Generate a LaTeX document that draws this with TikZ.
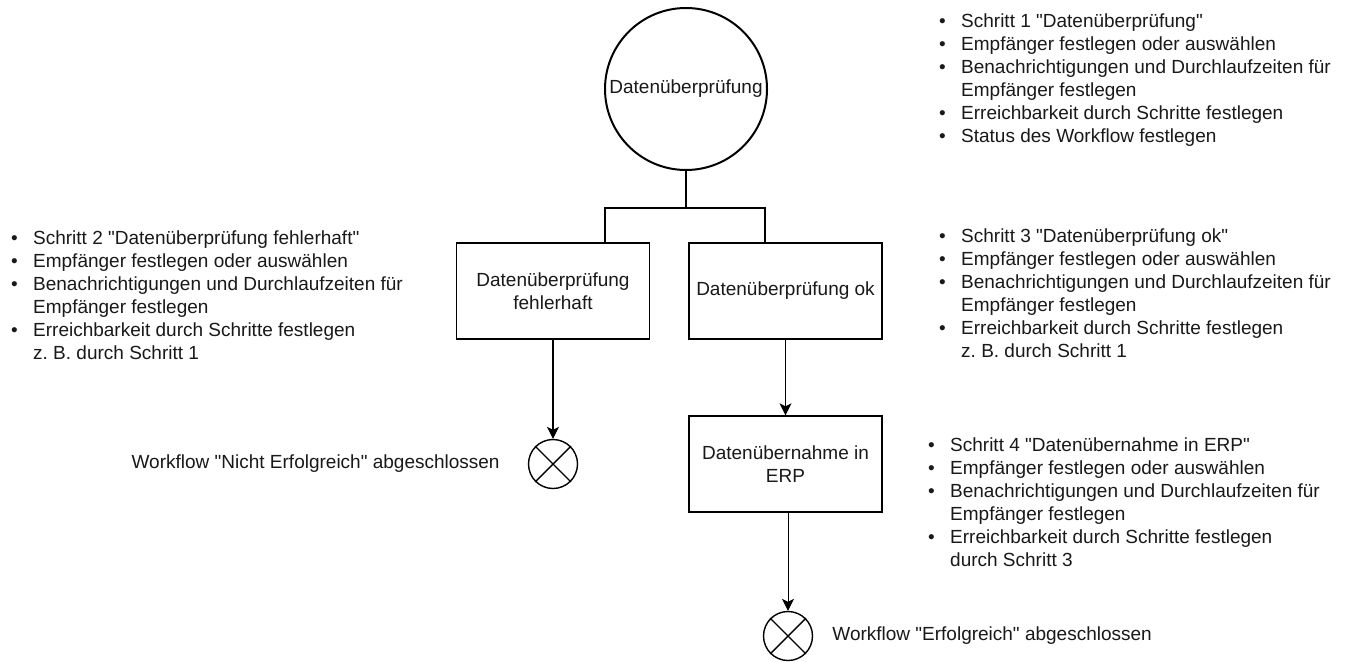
\documentclass[tikz,border=0pt]{standalone}
\usepackage{fontspec}
\setmainfont{Liberation Sans}[Ligatures=TeXOff]
\usetikzlibrary{arrows.meta}
\newcommand\bul{\makebox[22pt][l]{\textbullet}}
\frenchspacing
\begin{document}
\begin{tikzpicture}[x=1pt,y=-1pt,
  every node/.style={font=\fontsize{19}{23}\selectfont, text=black!90},
  startc/.style={draw, circle, line width=2pt, minimum size=162pt, inner sep=0pt},
  proc/.style={draw, line width=1.3pt, minimum width=193pt, minimum height=96pt, align=center, inner sep=2pt},
  endc/.style={draw, circle, line width=1.4pt, minimum size=49pt, inner sep=0pt},
  xline/.style={line width=1.4pt},
  bracket/.style={line width=2pt},
  flow/.style={line width=1.3pt, -{Stealth[length=12pt,width=12pt,inset=3pt]}},
  flowthin/.style={line width=0.9pt, -{Stealth[length=12pt,width=12pt,inset=3pt]}},
  list/.style={inner sep=0pt, anchor=base west},
  lbl/.style={inner sep=0pt}]
\useasboundingbox (0,0) rectangle (1351,661);
\fill[white] (0,0) rectangle (1351,661);

% main nodes
\node[startc] (c) at (686,89) {Datenüberprüfung};
\node[proc] (b1) at (553,291) {Datenüberprüfung\\fehlerhaft};
\node[proc] (b2) at (785.5,291) {Datenüberprüfung ok};
\node[proc] (b3) at (785.5,464) {Datenübernahme in\\ERP};
\node[endc] (e1) at (553,464) {};
\node[endc] (e2) at (788,636) {};
\draw[xline] (e1.45) -- (e1.225) (e1.135) -- (e1.315);
\draw[xline] (e2.45) -- (e2.225) (e2.135) -- (e2.315);

% bracket
\coordinate (j) at (686,208);
\coordinate (jL) at (605,208);
\coordinate (jR) at (765,208);
\draw[bracket] (c.south) -- (j);
\draw[bracket] (jL |- b1.north) -- (jL) -- (jR) -- (jR |- b2.north);

% arrows
\draw[flow] (b1.south) -- (e1.north);
\draw[flow] (b2.south) -- (b3.north);
\draw[flowthin] (b3.south -| e2.north) -- (e2.north);

% end labels
\node[lbl, anchor=east] (t1) at ([xshift=-28pt]e1.west) {Workflow "Nicht Erfolgreich" abgeschlossen};
\node[lbl, anchor=west] (t2) at ([xshift=19pt]e2.east) {Workflow "Erfolgreich" abgeschlossen};

% lists
\node[list] (l1) at (939,28) {\begin{tabular}[t]{@{}l@{}l@{}}
\bul & Schritt 1 "Datenüberprüfung"\\
\bul & Empfänger festlegen oder auswählen\\
\bul & Benachrichtigungen und Durchlaufzeiten für\\
 & Empfänger festlegen\\
\bul & Erreichbarkeit durch Schritte festlegen\\
\bul & Status des Workflow festlegen
\end{tabular}};
\node[list] (l2) at (11,244) {\begin{tabular}[t]{@{}l@{}l@{}}
\bul & Schritt 2 "Datenüberprüfung fehlerhaft"\\
\bul & Empfänger festlegen oder auswählen\\
\bul & Benachrichtigungen und Durchlaufzeiten für\\
 & Empfänger festlegen\\
\bul & Erreichbarkeit durch Schritte festlegen\\
 & z. B. durch Schritt 1
\end{tabular}};
\node[list] (l3) at (939,242) {\begin{tabular}[t]{@{}l@{}l@{}}
\bul & Schritt 3 "Datenüberprüfung ok"\\
\bul & Empfänger festlegen oder auswählen\\
\bul & Benachrichtigungen und Durchlaufzeiten für\\
 & Empfänger festlegen\\
\bul & Erreichbarkeit durch Schritte festlegen\\
 & z. B. durch Schritt 1
\end{tabular}};
\node[list] (l4) at (928,451) {\begin{tabular}[t]{@{}l@{}l@{}}
\bul & Schritt 4 "Datenübernahme in ERP"\\
\bul & Empfänger festlegen oder auswählen\\
\bul & Benachrichtigungen und Durchlaufzeiten für\\
 & Empfänger festlegen\\
\bul & Erreichbarkeit durch Schritte festlegen\\
 & durch Schritt 3
\end{tabular}};
\end{tikzpicture}
\end{document}
